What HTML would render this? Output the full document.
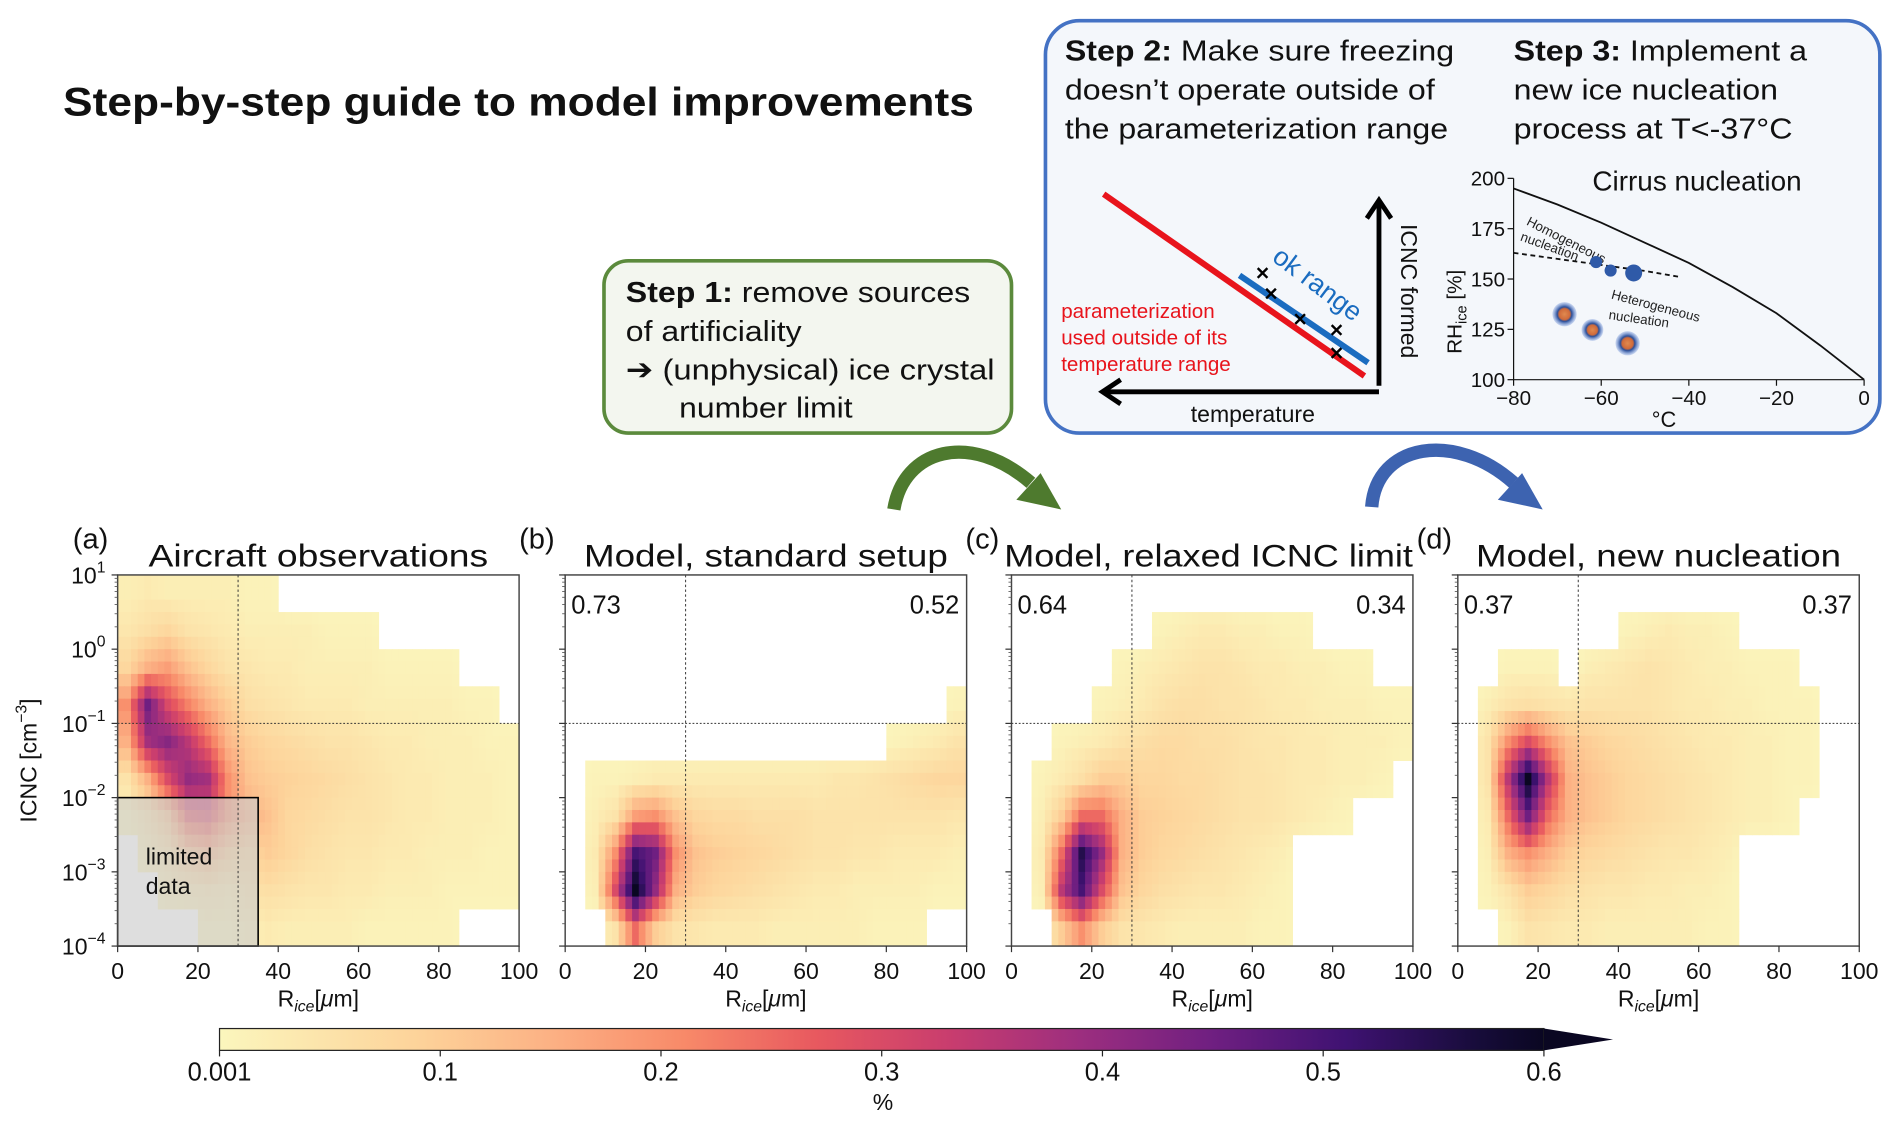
<!DOCTYPE html>
<html><head><meta charset="utf-8"><style>
html,body{margin:0;padding:0;background:#fff;}
svg{display:block;font-family:"Liberation Sans","DejaVu Sans",sans-serif;}
</style></head><body>
<svg id="fig" width="1892" height="1122" viewBox="0 0 1560 925" xmlns="http://www.w3.org/2000/svg">
<defs>
<linearGradient id="cbg" x1="0" x2="1" y1="0" y2="0">
<stop offset="0" stop-color="#fbf6bd"/><stop offset="0.15" stop-color="#fdd39a"/><stop offset="0.25" stop-color="#fcb184"/><stop offset="0.35" stop-color="#f88a69"/><stop offset="0.45" stop-color="#e8595f"/><stop offset="0.55" stop-color="#c93d6e"/><stop offset="0.65" stop-color="#9c2e7f"/><stop offset="0.75" stop-color="#6f1f81"/><stop offset="0.85" stop-color="#3f1272"/><stop offset="0.95" stop-color="#170c3a"/><stop offset="1" stop-color="#0a0722"/>
</linearGradient>
<radialGradient id="blob"><stop offset="0" stop-color="#e08a50"/><stop offset="0.45" stop-color="#d06a3a"/><stop offset="0.6" stop-color="#2a4f9a"/><stop offset="1" stop-color="#6a8ed8" stop-opacity="0.3"/></radialGradient>
</defs>

<text x="52" y="95" font-size="33" font-weight="bold" fill="#111" textLength="751" lengthAdjust="spacingAndGlyphs">Step-by-step guide to model improvements</text>

<g>
<rect x="498" y="215" width="336" height="142" rx="20" fill="#f3f6ef" stroke="#5b8a3c" stroke-width="3"/>
<text x="516" y="249" font-size="24" fill="#111" textLength="284" lengthAdjust="spacingAndGlyphs"><tspan font-weight="bold">Step 1:</tspan> remove sources</text>
<text x="516" y="281" font-size="24" fill="#111" textLength="145" lengthAdjust="spacingAndGlyphs">of artificiality</text>
<text x="516" y="313" font-size="24" fill="#111" textLength="304" lengthAdjust="spacingAndGlyphs">➔ (unphysical) ice crystal</text>
<text x="560" y="344" font-size="24" fill="#111" textLength="143" lengthAdjust="spacingAndGlyphs">number limit</text>
</g>
<g>
<path d="M737,420 C745,370 800,355 850,398" fill="none" stroke="#4e7a2e" stroke-width="11"/>
<polygon points="875,420 838,412 858,390" fill="#4e7a2e"/>
</g>
<g>
<path d="M1131,418 C1135,365 1200,355 1248,398" fill="none" stroke="#3d63b0" stroke-width="11"/>
<polygon points="1272,420 1235,412 1255,390" fill="#3d63b0"/>
</g>

<g>
<rect x="862" y="17" width="688" height="340" rx="28" fill="#f4f7fb" stroke="#4472c4" stroke-width="3"/>
<text x="878" y="50" font-size="24" fill="#111" textLength="321" lengthAdjust="spacingAndGlyphs"><tspan font-weight="bold">Step 2:</tspan> Make sure freezing</text>
<text x="878" y="82" font-size="24" fill="#111" textLength="305" lengthAdjust="spacingAndGlyphs">doesn’t operate outside of</text>
<text x="878" y="114" font-size="24" fill="#111" textLength="316" lengthAdjust="spacingAndGlyphs">the parameterization range</text>
<text x="1248" y="50" font-size="24" fill="#111" textLength="242" lengthAdjust="spacingAndGlyphs"><tspan font-weight="bold">Step 3:</tspan> Implement a</text>
<text x="1248" y="82" font-size="24" fill="#111" textLength="218" lengthAdjust="spacingAndGlyphs">new ice nucleation</text>
<text x="1248" y="114" font-size="24" fill="#111" textLength="230" lengthAdjust="spacingAndGlyphs">process at T&lt;-37°C</text>
</g>
<g>
<line x1="910" y1="160" x2="1125" y2="310" stroke="#e8141c" stroke-width="5"/>
<line x1="1022" y1="227" x2="1128" y2="299" stroke="#1a6cc0" stroke-width="5"/>
<polyline points="1137,318 1137,168" fill="none" stroke="#000" stroke-width="4"/>
<polyline points="1127,180 1137,165 1147,180" fill="none" stroke="#000" stroke-width="4"/>
<polyline points="1137,323 912,323" fill="none" stroke="#000" stroke-width="4"/>
<polyline points="924,313 909,323 924,333" fill="none" stroke="#000" stroke-width="4"/>
<text x="1082" y="240" font-size="22" fill="#1a6cc0" transform="rotate(37 1082 240)" text-anchor="middle">ok range</text>
<g stroke="#000" stroke-width="2">
<path d="M1037,221 l8,8 M1045,221 l-8,8"/><path d="M1044,238 l8,8 M1052,238 l-8,8"/><path d="M1068,259 l8,8 M1076,259 l-8,8"/><path d="M1098,268 l8,8 M1106,268 l-8,8"/><path d="M1098,287 l8,8 M1106,287 l-8,8"/>
</g>
<text x="1160" y="240" font-size="19" fill="#111" transform="rotate(90 1160 240)" text-anchor="middle" dominant-baseline="middle">ICNC formed</text>
<text x="1033" y="348" font-size="19" fill="#111" text-anchor="middle">temperature</text>
<text x="875" y="262" font-size="17" fill="#e8141c">parameterization</text>
<text x="875" y="284" font-size="17" fill="#e8141c">used outside of its</text>
<text x="875" y="306" font-size="17" fill="#e8141c">temperature range</text>
</g>
<g id="cirrus"></g>

<g id="panels"></g>
<g id="cbar"></g>
</svg>
<script>
// ---- data ----
const xTicks=[0,20,40,60,80,100];
const yExp=[1,0,-1,-2,-3,-4];
const cbTicks=["0.001","0.1","0.2","0.3","0.4","0.5","0.6"];
const panelTitles=["Aircraft observations","Model, standard setup","Model, relaxed ICNC limit","Model, new nucleation"];
const panelLetters=["(a)","(b)","(c)","(d)"];
const leftFrac=[null,"0.73","0.64","0.37"];
const rightFrac=[null,"0.52","0.34","0.37"];
const gridA=[
[.02,.03,.02,.02,.02,.02,.01,.01,0,0,0,0,0,0,0,0,0,0,0,0],
[.04,.06,.08,.05,.04,.03,.02,.02,.02,.02,.01,.01,.01,0,0,0,0,0,0,0],
[.08,.15,.18,.12,.08,.05,.04,.03,.03,.02,.02,.02,.02,.01,.01,.01,.01,0,0,0],
[.2,.45,.3,.22,.15,.1,.06,.05,.04,.03,.03,.03,.02,.02,.02,.02,.02,.01,.01,0],
[.15,.38,.42,.35,.25,.14,.1,.08,.07,.06,.05,.05,.04,.03,.03,.02,.02,.02,.01,.01],
[.05,.15,.3,.4,.38,.2,.12,.1,.09,.08,.07,.06,.05,.04,.03,.03,.02,.02,.02,.01],
[.01,.05,.12,.28,.3,.2,.15,.12,.08,.07,.06,.05,.05,.04,.03,.03,.02,.02,.02,.01],
[0,.02,.05,.12,.15,.1,.08,.1,.08,.06,.05,.04,.04,.03,.03,.02,.02,.02,.01,.01],
[0,0,.02,.03,.04,.03,.05,.06,.05,.04,.04,.03,.03,.02,.02,.02,.01,.01,.01,.01],
[0,0,0,0,.01,.01,.02,.03,.02,.02,.02,.02,.01,.01,.01,.01,.01,0,0,0]];
const gridB=[
[0,0,0,0,0,0,0,0,0,0,0,0,0,0,0,0,0,0,0,0],
[0,0,0,0,0,0,0,0,0,0,0,0,0,0,0,0,0,0,0,0],
[0,0,0,0,0,0,0,0,0,0,0,0,0,0,0,0,0,0,0,0],
[0,0,0,0,0,0,0,0,0,0,0,0,0,0,0,0,0,0,0,.01],
[0,0,0,0,0,0,0,0,0,0,0,0,0,0,0,0,.01,.02,.03,.05],
[0,.01,.01,.02,.03,.03,.03,.03,.03,.03,.03,.03,.03,.04,.04,.05,.06,.07,.08,.08],
[0,.02,.05,.18,.2,.12,.08,.07,.07,.06,.06,.06,.05,.05,.05,.05,.05,.05,.05,.04],
[0,.03,.2,.5,.45,.2,.12,.1,.09,.08,.07,.06,.05,.05,.04,.04,.03,.03,.03,.02],
[0,.02,.3,.6,.4,.15,.1,.08,.07,.06,.05,.04,.03,.03,.02,.02,.02,.02,.01,.01],
[0,0,.05,.25,.1,.05,.04,.03,.03,.03,.02,.02,.02,.02,.02,.01,.01,.01,0,0]];
const gridC=[
[0,0,0,0,0,0,0,0,0,0,0,0,0,0,0,0,0,0,0,0],
[0,0,0,0,0,0,0,.01,.02,.03,.03,.02,.02,.01,.01,0,0,0,0,0],
[0,0,0,0,0,.01,.02,.03,.04,.05,.05,.04,.03,.03,.02,.02,.01,.01,0,0],
[0,0,0,0,.01,.02,.03,.05,.06,.06,.05,.05,.04,.03,.03,.02,.02,.02,.01,.01],
[0,0,.01,.02,.03,.05,.06,.07,.07,.06,.06,.05,.04,.04,.03,.03,.02,.02,.02,.01],
[0,.01,.03,.06,.1,.1,.08,.08,.07,.07,.06,.05,.05,.04,.03,.03,.02,.02,.01,0],
[0,.02,.1,.25,.25,.15,.1,.09,.08,.07,.06,.05,.05,.04,.03,.02,.01,0,0,0],
[0,.03,.25,.55,.4,.15,.1,.08,.07,.06,.05,.04,.03,.02,0,0,0,0,0,0],
[0,.02,.35,.5,.3,.12,.08,.06,.05,.04,.04,.03,.02,.01,0,0,0,0,0,0],
[0,0,.1,.2,.1,.05,.04,.03,.02,.02,.02,.02,.01,.01,0,0,0,0,0,0]];
const gridD=[
[0,0,0,0,0,0,0,0,0,0,0,0,0,0,0,0,0,0,0,0],
[0,0,0,0,0,0,0,0,.01,.02,.03,.02,.02,.01,0,0,0,0,0,0],
[0,0,.01,.01,.01,0,.02,.03,.04,.05,.04,.03,.02,.02,.01,.01,.01,0,0,0],
[0,.02,.05,.06,.05,.04,.05,.05,.05,.05,.04,.03,.03,.02,.02,.01,.01,.01,0,0],
[0,.05,.2,.3,.2,.12,.1,.08,.07,.06,.05,.04,.03,.03,.02,.02,.01,.01,0,0],
[0,.05,.35,.6,.35,.15,.12,.1,.08,.07,.06,.05,.04,.03,.02,.02,.01,.01,0,0],
[0,.03,.25,.45,.25,.15,.12,.1,.08,.07,.06,.05,.04,.03,.02,.02,.01,0,0,0],
[0,.02,.15,.2,.15,.1,.08,.07,.06,.05,.04,.04,.03,.02,0,0,0,0,0,0],
[0,.01,.05,.1,.08,.06,.05,.04,.04,.03,.03,.02,.02,.01,0,0,0,0,0,0],
[0,0,.01,.05,.04,.03,.03,.02,.02,.02,.02,.02,.01,.01,0,0,0,0,0,0]];
const grids=[gridA,gridB,gridC,gridD];
const cirrusX=[-80,-70,-60,-50,-40,-30,-20,-10,0];
const cirrusHom=[195,187,178,168,158,146,133,117,100];
const cirrusHet=[163,160,157,154,151];
const cirrusHetX=[-80,-70,-60,-50,-42];
const cirrusXT=[-80,-60,-40,-20,0];
const cirrusYT=[100,125,150,175,200];

const NS="http://www.w3.org/2000/svg";
function mk(tag,attrs,parent){const e=document.createElementNS(NS,tag);for(const k in attrs)e.setAttribute(k,attrs[k]);parent.appendChild(e);return e;}
const stops=[[0,[251,246,189]],[.15,[253,211,154]],[.25,[252,177,132]],[.35,[248,138,105]],[.45,[232,89,95]],[.55,[201,61,110]],[.65,[156,46,127]],[.75,[111,31,129]],[.85,[63,18,114]],[.95,[23,12,58]],[1,[10,7,34]]];
function cmap(v){let t=Math.min(1,Math.max(0,v/0.6));for(let i=1;i<stops.length;i++){if(t<=stops[i][0]){const a=stops[i-1],b=stops[i];const f=(t-a[0])/(b[0]-a[0]);const c=a[1].map((x,j)=>Math.round(x+(b[1][j]-x)*f));return `rgb(${c})`;}}return "rgb(10,7,34)";}
// bilinear sample of grid at fractional (row,col) cell-center coordinates (rendering only)
function sample(grid,rf,cf){
 const R=grid.length,C=grid[0].length;
 const r0=Math.max(0,Math.min(R-1,Math.floor(rf))),r1=Math.min(R-1,r0+1);
 const c0=Math.max(0,Math.min(C-1,Math.floor(cf))),c1=Math.min(C-1,c0+1);
 const fr=Math.max(0,Math.min(1,rf-r0)),fc=Math.max(0,Math.min(1,cf-c0));
 const g=(r,c)=>grid[r][c];
 return g(r0,c0)*(1-fr)*(1-fc)+g(r0,c1)*(1-fr)*fc+g(r1,c0)*fr*(1-fc)+g(r1,c1)*fr*fc;
}

const panelX=[97,466,834,1202], PW=331, PT=474, PB=780;
const titleLen=[280,300,337,301];
const P=document.getElementById('panels');
const SUB=3;
for(let p=0;p<4;p++){
 const x0=panelX[p];
 const xs=v=>x0+v/100*PW;
 const ys=e=>PT+(1-e)/5*(PB-PT);
 const g=mk('g',{},P);
 
 
 const grid=grids[p];
 for(let r=0;r<grid.length;r++)for(let c=0;c<grid[r].length;c++){
  const v=grid[r][c]; if(v<=0)continue;
  for(let i=0;i<SUB;i++)for(let j=0;j<SUB;j++){
   const rf=r+(i+0.5)/SUB-0.5, cf=c+(j+0.5)/SUB-0.5;
   const sv=sample(grid,rf,cf);
   const xa=xs((c+j/SUB)*5), xb=xs((c+(j+1)/SUB)*5);
   const ya=ys(1-(r+i/SUB)*0.5), yb=ys(1-(r+(i+1)/SUB)*0.5);
   const cell=mk('rect',{x:xa,y:ya,width:xb-xa+0.4,height:yb-ya+0.4,fill:cmap(Math.max(0.005,sv))},g);
   
   
  }
 }
 if(p===0){
  const box=mk('rect',{x:xs(0),y:ys(-2),width:xs(35)-xs(0),height:ys(-4)-ys(-2),fill:'rgba(205,205,205,0.65)',stroke:'#000','stroke-width':1.3},g);
  
  
  const t1=mk('text',{x:xs(7),y:ys(-2.9),'font-size':19,fill:'#111'},g);t1.textContent='limited';
  
  
  const t2=mk('text',{x:xs(7),y:ys(-3.3),'font-size':19,fill:'#111'},g);t2.textContent='data';
 }
 mk('line',{x1:xs(30),x2:xs(30),y1:PT,y2:PB,stroke:'#333','stroke-width':0.8,'stroke-dasharray':'2,2'},g);
 mk('line',{x1:x0,x2:x0+PW,y1:ys(-1),y2:ys(-1),stroke:'#333','stroke-width':0.8,'stroke-dasharray':'1.5,1.5'},g);
 const fr=mk('rect',{x:x0,y:PT,width:PW,height:PB-PT,fill:'none',stroke:'#444','stroke-width':1.2},g);
 
 
 xTicks.forEach(v=>{mk('line',{x1:xs(v),x2:xs(v),y1:PB,y2:PB+5,stroke:'#333'},g);
  const t=mk('text',{x:xs(v),y:PB+27,'font-size':19,'text-anchor':'middle',fill:'#111'},g);t.textContent=v;
  
  });
 yExp.forEach(e=>{mk('line',{x1:x0-5,x2:x0,y1:ys(e),y2:ys(e),stroke:'#333'},g);
  if(p===0){const t=mk('text',{x:x0-10,y:ys(e)+7,'font-size':19,'text-anchor':'end',fill:'#111'},g);
   t.innerHTML='10<tspan dy="-9" font-size="13">'+(e<0?'−'+(-e):e)+'</tspan>';
   
   }
  if(e>-4)for(let k=2;k<10;k++){const yy=ys(e-1+Math.log10(k));mk('line',{x1:x0-2.5,x2:x0,y1:yy,y2:yy,stroke:'#555','stroke-width':0.7},g);}
 });
 const xl=mk('text',{x:x0+PW/2,y:PB+50,'font-size':19,'text-anchor':'middle',fill:'#111'},g);
 xl.innerHTML='R<tspan font-size="13" dy="4" font-style="italic">ice</tspan><tspan dy="-4">[</tspan><tspan font-style="italic">μ</tspan>m]';
 
 
 const tt=mk('text',{x:x0+PW/2-titleLen[p]/2+(p===2?-3:0),y:467,'font-size':26,fill:'#111',textLength:titleLen[p],lengthAdjust:'spacingAndGlyphs'},g);tt.textContent=panelTitles[p];
 
 
 const lt=mk('text',{x:[60,428,796,1168][p],y:452,'font-size':24,fill:'#111'},g);lt.textContent=panelLetters[p];
 
 
 if(leftFrac[p]){const a=mk('text',{x:x0+5,y:506,'font-size':21,fill:'#111'},g);a.textContent=leftFrac[p];
  
  
  const b=mk('text',{x:x0+PW-6,y:506,'font-size':21,fill:'#111','text-anchor':'end'},g);b.textContent=rightFrac[p];
  
  }
}
const yl=mk('text',{x:30,y:627,'font-size':19,'text-anchor':'middle',fill:'#111',transform:'rotate(-90 30 627)'},P);
yl.innerHTML='ICNC [cm<tspan dy="-8" font-size="13">−3</tspan><tspan dy="8">]</tspan>';



// colorbar
const CB=document.getElementById('cbar');
const cbx0=181,cbx1=1273,cby=848,cbh=18;
mk('rect',{x:cbx0,y:cby,width:cbx1-cbx0,height:cbh,fill:'url(#cbg)',stroke:'#222','stroke-width':1},CB);
mk('polygon',{points:`${cbx1},${cby} ${cbx1+57},${cby+cbh/2} ${cbx1},${cby+cbh}`,fill:'#0a0722'},CB);
cbTicks.forEach((lab,i)=>{const x=cbx0+i*(cbx1-cbx0)/(cbTicks.length-1);
 mk('line',{x1:x,x2:x,y1:cby+cbh,y2:cby+cbh+5,stroke:'#222'},CB);
 const t=mk('text',{x:x,y:cby+cbh+25,'font-size':21,'text-anchor':'middle',fill:'#111'},CB);t.textContent=lab;
 
 });
const pc=mk('text',{x:728,y:915,'font-size':19,'text-anchor':'middle',fill:'#111'},CB);pc.textContent='%';

// cirrus plot
const C=document.getElementById('cirrus');
const cx=v=>1248+(v+80)/80*289, cy=v=>313-(v-100)/100*166;
mk('polyline',{points:cirrusX.map((v,i)=>cx(v)+','+cy(cirrusHom[i])).join(' '),fill:'none',stroke:'#111','stroke-width':1.5},C);
mk('polyline',{points:cirrusHetX.map((v,i)=>cx(v)+','+cy(cirrusHet[i])).join(' '),fill:'none',stroke:'#111','stroke-width':1.5,'stroke-dasharray':'4,3'},C);
mk('polyline',{points:`1248,147 1248,313 1537,313`,fill:'none',stroke:'#111','stroke-width':1},C);
cirrusXT.forEach(v=>{mk('line',{x1:cx(v),x2:cx(v),y1:313,y2:318,stroke:'#111'},C);const t=mk('text',{x:cx(v),y:334,'font-size':17,'text-anchor':'middle',fill:'#111'},C);t.textContent=v<0?'−'+(-v):v;});
cirrusYT.forEach(v=>{mk('line',{x1:1243,x2:1248,y1:cy(v),y2:cy(v),stroke:'#111'},C);const t=mk('text',{x:1241,y:cy(v)+6,'font-size':17,'text-anchor':'end',fill:'#111'},C);t.textContent=v;});
let tt=mk('text',{x:1313,y:157,'font-size':23,fill:'#111'},C);tt.textContent='Cirrus nucleation';
tt=mk('text',{x:1372,y:352,'font-size':18,'text-anchor':'middle',fill:'#111'},C);tt.textContent='°C';
tt=mk('text',{x:1205,y:257,'font-size':17,'text-anchor':'middle',fill:'#111',transform:'rotate(-90 1205 257)'},C);
tt.innerHTML='RH<tspan font-size="12" dy="4">ice</tspan><tspan dy="-4"> [%]</tspan>';
tt=mk('text',{x:1258,y:185,'font-size':11,fill:'#222',transform:'rotate(27 1258 185)'},C);tt.textContent='Homogeneous';
tt=mk('text',{x:1253,y:198,'font-size':11,fill:'#222',transform:'rotate(20 1253 198)'},C);tt.textContent='nucleation';
tt=mk('text',{x:1328,y:246,'font-size':11,fill:'#222',transform:'rotate(15 1328 246)'},C);tt.textContent='Heterogeneous';
tt=mk('text',{x:1326,y:263,'font-size':11,fill:'#222',transform:'rotate(8 1326 263)'},C);tt.textContent='nucleation';
[[1316,216,5],[1328,223,5],[1347,225,7],[1290,259,10],[1313,272,9],[1342,283,10]].forEach(b=>mk('circle',{cx:b[0],cy:b[1],r:b[2],fill:b[2]>8?'url(#blob)':'#2f5aa8'},C));
</script>
</body></html>
